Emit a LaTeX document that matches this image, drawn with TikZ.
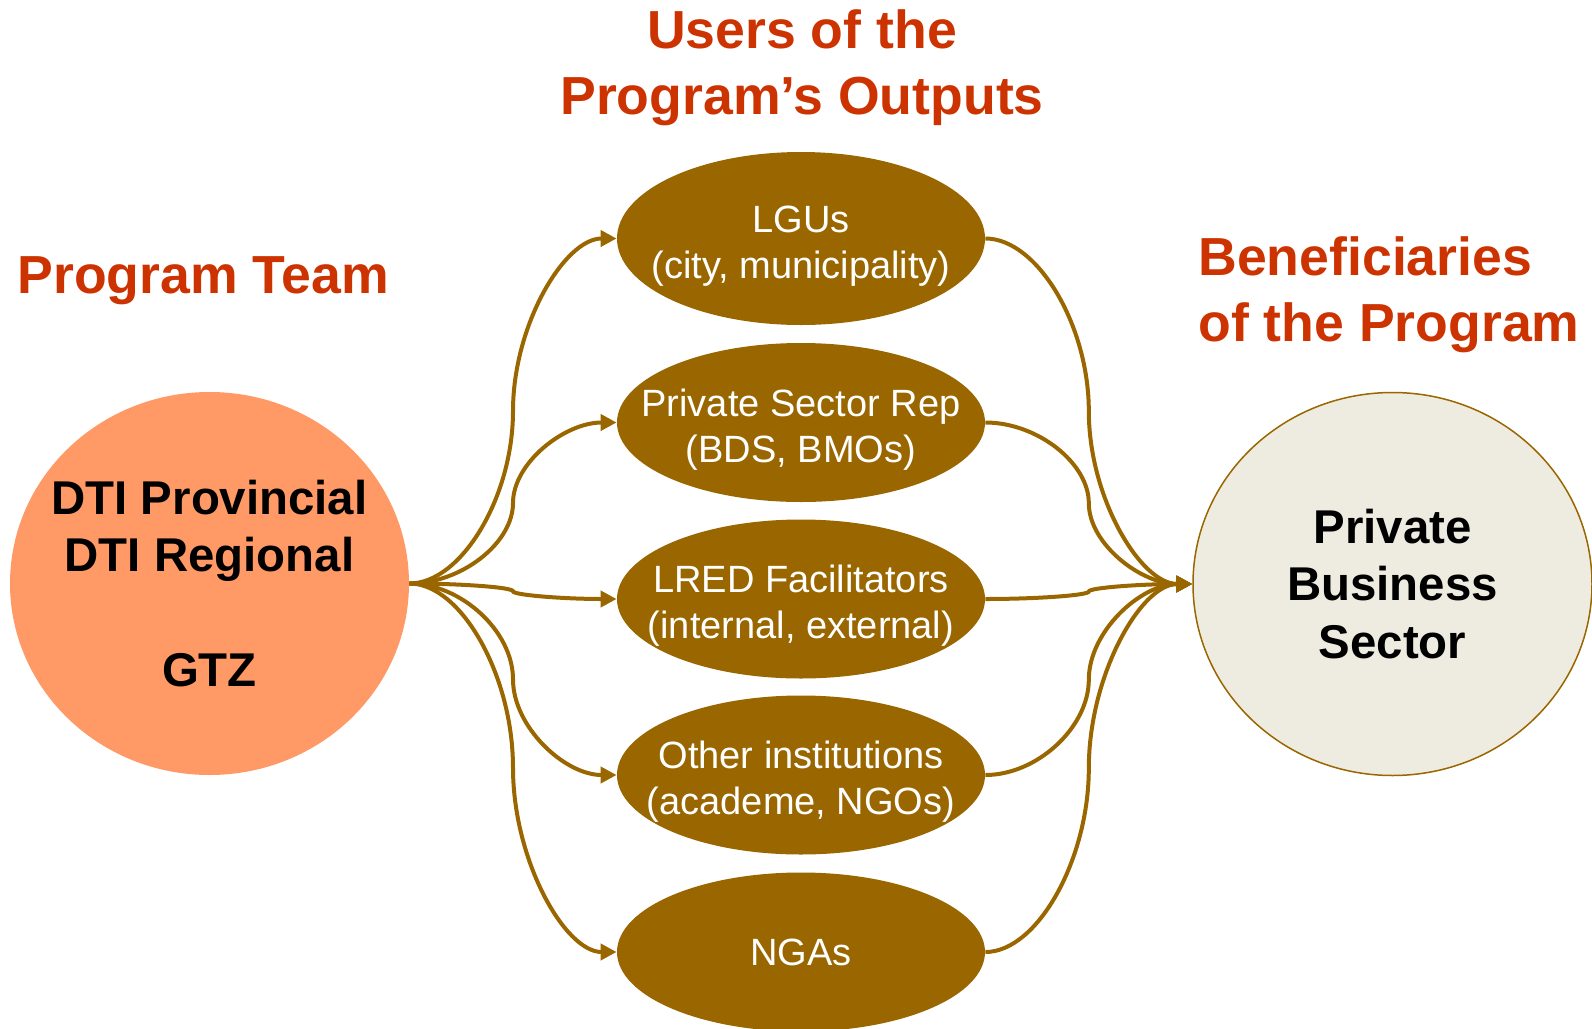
\documentclass[tikz,border=0pt]{standalone}
\usepackage{fontspec}
\setmainfont{Liberation Sans}
\usepackage{xcolor}
\usetikzlibrary{shapes.geometric,calc}
\usetikzlibrary {arrows.meta}
\definecolor{titleRed}{HTML}{CC3300}
\definecolor{teamOrange}{HTML}{FF9966}
\definecolor{userBrown}{HTML}{996600}
\definecolor{sectorGrey}{HTML}{EEECE1}
\newcommand{\lift}{\rule{0pt}{20.6pt}}

\begin{document}
\begin{tikzpicture}[x=0.5pt,y=-0.5pt]
        \useasboundingbox (0,0) rectangle (1592,1029);
        \tikzset{title/.style = {text=titleRed,inner sep=0pt,font=\fontsize{26.8pt}{33pt}\selectfont\bfseries}}
        \tikzset{group/.style = {shape=ellipse,inner ysep=0pt,inner xsep=-30pt,minimum width=199.5pt,minimum height=191.5pt,align=center,font=\fontsize{23.7pt}{28.75pt}\selectfont\bfseries}}
        \tikzset{user/.style = {shape=ellipse,fill=userBrown,text=white,inner ysep=0pt,inner xsep=-30pt,minimum width=184pt,minimum height=79.5pt,align=center,font=\fontsize{19pt}{23pt}\selectfont}}
        \tikzset{edge/.style = {draw=userBrown,line width=2pt,-{Triangle[length=8pt,width=8pt]},
          to path={let \p1=(\tikztostart), \p2=(\tikztotarget) in
            .. controls ({(3*\x1+\x2)/4},\y1) and ({(\x1+\x2)/2},{(3*\y1+\y2)/4})
            .. ({(\x1+\x2)/2},{(\y1+\y2)/2})
            .. controls ({(\x1+\x2)/2},{(\y1+3*\y2)/4}) and ({(\x1+3*\x2)/4},\y2)
            .. (\tikztotarget)}}}
        % titles
        \node[title,anchor=base west] (teamtitle) at (17,293) {Program Team};
        \node[title,align=center] (usertitle) at (802,68) {Users of the\\Program’s Outputs};
        \node[title,align=left,anchor=west] (benetitle) at (1198,294.5) {Beneficiaries\\of the Program};
        % groups
        \node[group,fill=teamOrange] (team) at (209.5,583.5) {DTI Provincial\\DTI Regional\\[28.75pt]GTZ};
        \node[group,fill=sectorGrey,draw=userBrown,line width=0.75pt] (sector) at (1392.5,584) {Private\\Business\\Sector};
        % users
        \node[user,minimum height=86.5pt] (lgu) at (801,238.5) {\lift LGUs\\(city, municipality)};
        \node[user] (psr) at (801,422.5) {\lift Private Sector Rep\\(BDS, BMOs)};
        \node[user] (lred) at (801,599) {\lift LRED Facilitators\\(internal, external)};
        \node[user] (other) at (801,775) {\lift Other institutions\\(academe, NGOs)};
        \node[user] (nga) at (801,952) {NGAs};
        % edges
        \draw[edge] (team.east) to (lgu.west);
        \draw[edge] (team.east) to (psr.west);
        \draw[edge] (team.east) to (lred.west);
        \draw[edge] (team.east) to (other.west);
        \draw[edge] (team.east) to (nga.west);
        \draw[edge] (lgu.east) to (sector.west);
        \draw[edge] (psr.east) to (sector.west);
        \draw[edge] (lred.east) to (sector.west);
        \draw[edge] (other.east) to (sector.west);
        \draw[edge] (nga.east) to (sector.west);
\end{tikzpicture}
\end{document}
